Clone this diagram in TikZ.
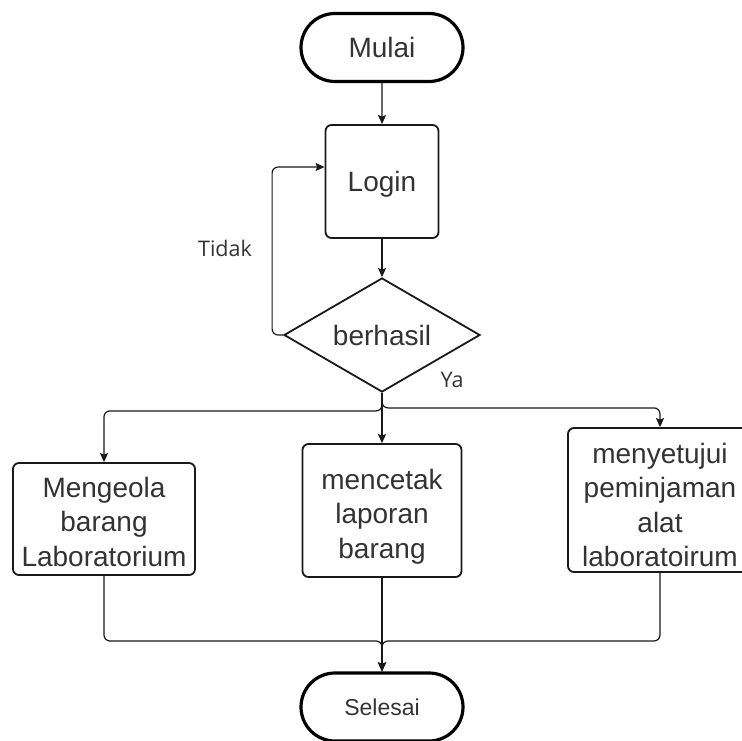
\documentclass[tikz,border=0pt]{standalone}
\usepackage{fontspec}
\setmainfont{Liberation Sans}
\newfontfamily\labelfont{Open Sans}
\usetikzlibrary{shapes.misc,shapes.geometric,arrows.meta}
\newcommand\topgap[1]{\rule{0pt}{#1}}
\begin{document}
\begin{tikzpicture}[x=1pt,y=-1pt,
  every node/.style={font=\fontsize{28}{34.5}\selectfont, text=black!80},
  term/.style={rounded rectangle, draw=black, line width=3.2pt, minimum width=162pt, minimum height=68pt, inner sep=0pt},
  procbox/.style={rectangle, rounded corners=6pt, draw=black!90, line width=1.8pt, align=center, inner sep=0pt},
  decision/.style={diamond, draw=black!90, line width=1.8pt, aspect=1.72, minimum width=196pt, minimum height=114pt, inner sep=0pt},
  conn/.style={draw=black!90, line width=1.2pt, -{Stealth[length=9pt,width=8pt,inset=1.5pt]}, rounded corners=6pt},
  lbl/.style={font=\labelfont\fontsize{21.5}{25}\selectfont, text=black!80}
]
\useasboundingbox (0,0) rectangle (741,741);
\node[term] (start) at (382,47.5) {Mulai};
\node[procbox, minimum width=113pt, minimum height=113pt] (login) at (382,181.5) {\topgap{26pt}Login};
\node[decision] (dec) at (382,335) {berhasil};
\node[procbox, minimum width=182pt, minimum height=112pt] (b1) at (104,519) {\topgap{26pt}Mengeola\\barang\\Laboratorium};
\node[procbox, minimum width=159pt, minimum height=133pt] (b2) at (382,510.5) {\topgap{32pt}mencetak\\laporan\\barang};
\node[procbox, minimum width=184pt, minimum height=144pt] (b3) at (660,500) {\topgap{30pt}menyetujui\\peminjaman\\alat\\laboratoirum};
\node[term, font=\fontsize{23}{28}\selectfont] (end) at (382,707) {Selesai};
\node[lbl] (tidak) at (225,248) {Tidak};
\node[lbl] (ya) at (452,380) {Ya};
\coordinate (m) at (382,641);

\draw[conn] (start) -- (login);
\draw[conn] (login) -- (dec);
\draw[conn] (dec.west) -- ++(-11,0) |- ([yshift=14.5pt]login.west);
\draw[conn] (dec.south) -- ++(0,18) -| (b1.north);
\draw[conn] (dec.south) -- ++(0,15) -| (b3.north);
\draw[conn] (dec.south) -- (b2.north);
\draw[conn] (b1.south) |- (m) -- (end.north);
\draw[conn] (b3.south) |- (m) -- (end.north);
\draw[conn] (b2.south) -- (end.north);
\end{tikzpicture}
\end{document}
